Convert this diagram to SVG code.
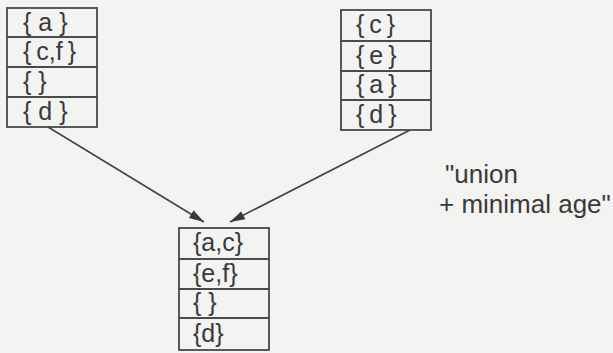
<svg xmlns="http://www.w3.org/2000/svg" width="613" height="353" viewBox="0 0 613 353">
  <style>
    .cell { fill: none; stroke: #4a4a4a; stroke-width: 1.8; }
    .set { font-family: "Liberation Sans", Arial, sans-serif; font-size: 25px; fill: #3a3a3a; }
    .note { font-family: "Liberation Sans", Arial, sans-serif; font-size: 26px; fill: #3a3a3a; }
    .edge { stroke: #444; stroke-width: 1.6; fill: none; marker-end: url(#head); }
  </style>
  <defs>
    <marker id="head" markerUnits="userSpaceOnUse" markerWidth="16" markerHeight="10" refX="15" refY="5" orient="auto">
      <path d="M0,0.5 L15,5 L0,9.5 Z" fill="#3a3a3a"/>
    </marker>
  </defs>
  <rect width="613" height="353" fill="#f3f3f1"/>

  <!-- left cache state -->
  <g id="state-left">
    <rect class="cell" x="7" y="8" width="90" height="29"/>
    <rect class="cell" x="7" y="37" width="90" height="30"/>
    <rect class="cell" x="7" y="67" width="90" height="30"/>
    <rect class="cell" x="7" y="97" width="90" height="30"/>
    <text class="set" x="23" y="31">{<tspan dx="7">a</tspan><tspan dx="7">}</tspan></text>
    <text class="set" x="23" y="60">{<tspan dx="5">c,f</tspan><tspan dx="5">}</tspan></text>
    <text class="set" x="23" y="90">{<tspan dx="7">}</tspan></text>
    <text class="set" x="23" y="120">{<tspan dx="7">d</tspan><tspan dx="7">}</tspan></text>
  </g>

  <!-- right cache state -->
  <g id="state-right">
    <rect class="cell" x="341" y="10" width="90" height="31"/>
    <rect class="cell" x="341" y="41" width="90" height="30"/>
    <rect class="cell" x="341" y="71" width="90" height="29"/>
    <rect class="cell" x="341" y="100" width="90" height="30"/>
    <text class="set" x="356" y="33">{<tspan dx="5">c</tspan><tspan dx="5">}</tspan></text>
    <text class="set" x="356" y="64">{<tspan dx="5">e</tspan><tspan dx="5">}</tspan></text>
    <text class="set" x="356" y="93">{<tspan dx="5">a</tspan><tspan dx="5">}</tspan></text>
    <text class="set" x="356" y="123">{<tspan dx="5">d</tspan><tspan dx="5">}</tspan></text>
  </g>

  <!-- joined cache state -->
  <g id="state-join">
    <rect class="cell" x="179" y="228" width="90" height="31"/>
    <rect class="cell" x="179" y="259" width="90" height="30"/>
    <rect class="cell" x="179" y="289" width="90" height="29"/>
    <rect class="cell" x="179" y="318" width="90" height="32"/>
    <text class="set" x="193" y="251">{a,c}</text>
    <text class="set" x="193" y="282">{e,f}</text>
    <text class="set" x="193" y="311">{<tspan dx="7">}</tspan></text>
    <text class="set" x="193" y="342">{d}</text>
  </g>

  <!-- join operator label -->
  <g id="label-join">
    <text class="note" x="445" y="183">"union</text>
    <text class="note" x="439" y="213">+ minimal age"</text>
  </g>

  <g id="connectors">
    <line class="edge" x1="48" y1="127" x2="204" y2="222"/>
    <line class="edge" x1="410" y1="130" x2="230" y2="222"/>
  </g>
</svg>
